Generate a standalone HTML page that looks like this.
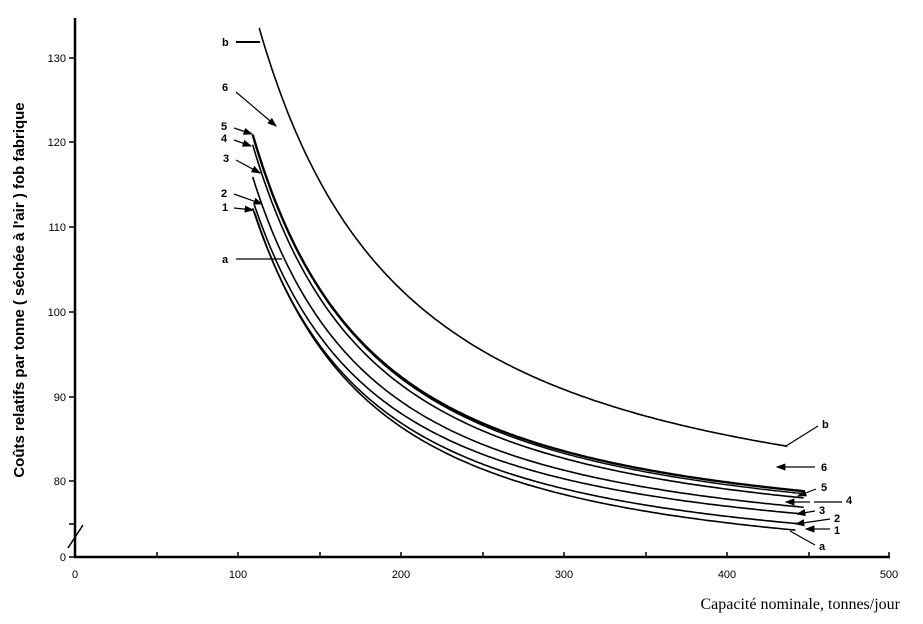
<!DOCTYPE html><html><head><meta charset="utf-8"><style>
body{margin:0;background:#fff}svg{display:block}
text{font-family:"Liberation Sans",sans-serif;fill:#000}
</style></head><body>
<svg id="s" width="923" height="624" viewBox="0 0 923 624" xmlns="http://www.w3.org/2000/svg">
<defs><marker id="ar" markerWidth="8" markerHeight="6" refX="7" refY="3" orient="auto"><path d="M0,0L8,3L0,6z" fill="#000"/></marker></defs>
<g stroke="#000" stroke-width="2.5" fill="none">
<line x1="75" y1="18" x2="75" y2="558"/>
<line x1="74" y1="557" x2="890" y2="557"/>
</g>
<g stroke="#000" stroke-width="1.5">
<line x1="69" y1="58" x2="75" y2="58"/><line x1="69" y1="142" x2="75" y2="142"/><line x1="69" y1="227" x2="75" y2="227"/><line x1="69" y1="312" x2="75" y2="312"/><line x1="69" y1="397" x2="75" y2="397"/><line x1="69" y1="481" x2="75" y2="481"/><line x1="69" y1="524" x2="75" y2="524"/><line x1="69" y1="557" x2="75" y2="557"/>
<line x1="68" y1="548" x2="83" y2="525"/>
<line x1="157" y1="552" x2="157" y2="557"/><line x1="238" y1="552" x2="238" y2="557"/><line x1="320" y1="552" x2="320" y2="557"/><line x1="401" y1="552" x2="401" y2="557"/><line x1="483" y1="552" x2="483" y2="557"/><line x1="564" y1="552" x2="564" y2="557"/><line x1="646" y1="552" x2="646" y2="557"/><line x1="727" y1="552" x2="727" y2="557"/><line x1="809" y1="552" x2="809" y2="557"/><line x1="889" y1="552" x2="889" y2="557"/>
</g>
<g font-size="11" text-anchor="end">
<text x="66" y="62">130</text><text x="66" y="146">120</text><text x="66" y="231">110</text><text x="66" y="316">100</text><text x="66" y="401">90</text><text x="66" y="485">80</text><text x="66" y="561">0</text>
</g>
<g font-size="11" text-anchor="middle">
<text x="75" y="578">0</text><text x="238" y="578">100</text><text x="401" y="578">200</text><text x="564" y="578">300</text><text x="727" y="578">400</text><text x="889" y="578">500</text>
</g>
<text x="900" y="609" font-size="16" text-anchor="end" style="font-family:'Liberation Serif',serif">Capacité nominale, tonnes/jour</text>
<text transform="translate(24,290) rotate(-90)" font-size="15" font-weight="bold" text-anchor="middle">Coûts relatifs par tonne ( séchée à l'air ) fob fabrique</text>
<g id="curves" fill="none" stroke="#000" stroke-width="1.6"></g>
<g font-size="11" font-weight="bold">
<text x="222" y="46">b</text><text x="222" y="91">6</text><text x="221" y="130">5</text><text x="221" y="142">4</text><text x="223" y="162">3</text><text x="221" y="197">2</text><text x="222" y="211">1</text><text x="222" y="263">a</text>
<text x="822" y="428">b</text><text x="821" y="471">6</text><text x="821" y="491">5</text><text x="846" y="504">4</text><text x="819" y="514">3</text><text x="834" y="522">2</text><text x="834" y="534">1</text><text x="819" y="550">a</text>
</g>
<g stroke="#000" stroke-width="1.2" fill="none">
<line x1="236" y1="42" x2="260" y2="42" stroke-width="2"/>
<line x1="236" y1="92" x2="276" y2="126" marker-end="url(#ar)"/>
<line x1="234" y1="128" x2="252" y2="134" marker-end="url(#ar)"/>
<line x1="234" y1="140" x2="251" y2="146" marker-end="url(#ar)"/>
<line x1="236" y1="160" x2="260" y2="173" marker-end="url(#ar)"/>
<line x1="234" y1="194" x2="262" y2="204" marker-end="url(#ar)"/>
<line x1="234" y1="208" x2="253" y2="210" marker-end="url(#ar)"/>
<line x1="236" y1="259" x2="282" y2="259"/>
<line x1="818" y1="426" x2="786" y2="446"/>
<line x1="815" y1="467" x2="777" y2="467" marker-end="url(#ar)"/>
<line x1="816" y1="489" x2="798" y2="496" marker-end="url(#ar)"/>
<line x1="842" y1="502" x2="814" y2="502"/><line x1="810" y1="502" x2="786" y2="502" marker-end="url(#ar)"/>
<line x1="815" y1="511" x2="797" y2="514" marker-end="url(#ar)"/>
<line x1="830" y1="519" x2="796" y2="524" marker-end="url(#ar)"/>
<line x1="830" y1="529" x2="806" y2="529" marker-end="url(#ar)"/>
<line x1="815" y1="545" x2="790" y2="531"/>
</g>
</svg>
<script>
var c=[[113,133.5,437,84.1,1.6,1.25],[109,120.9,447,78.8,2.4,1.5],[110,120.3,447,78.5,1.4,1.5],[109,119.7,447,78.0,1.6,1.5],[109,115.9,447,76.9,1.6,1.5],[110,112.6,447,76.1,1.6,1.5],[109,112.2,447,74.9,1.6,1.5],[110,111.8,442,74.2,1.6,1.5]];
var g=document.getElementById('curves'),h='';
c.forEach(function(k){var x0=k[0],y0=k[1],x1=k[2],y1=k[3],p=k[5];
var B=(y0-y1)/(Math.pow(x0,-p)-Math.pow(x1,-p)),A=y1-B*Math.pow(x1,-p),d='';
for(var x=x0;x<=x1;x+=2){var y=A+B*Math.pow(x,-p);var px=75+x*1.63,py=481-(y-80)*8.47;d+=(d?'L':'M')+px.toFixed(1)+','+py.toFixed(1);}
h+='<path d="'+d+'" stroke-width="'+k[4]+'"/>';});
g.innerHTML=h;
</script>
</body></html>
